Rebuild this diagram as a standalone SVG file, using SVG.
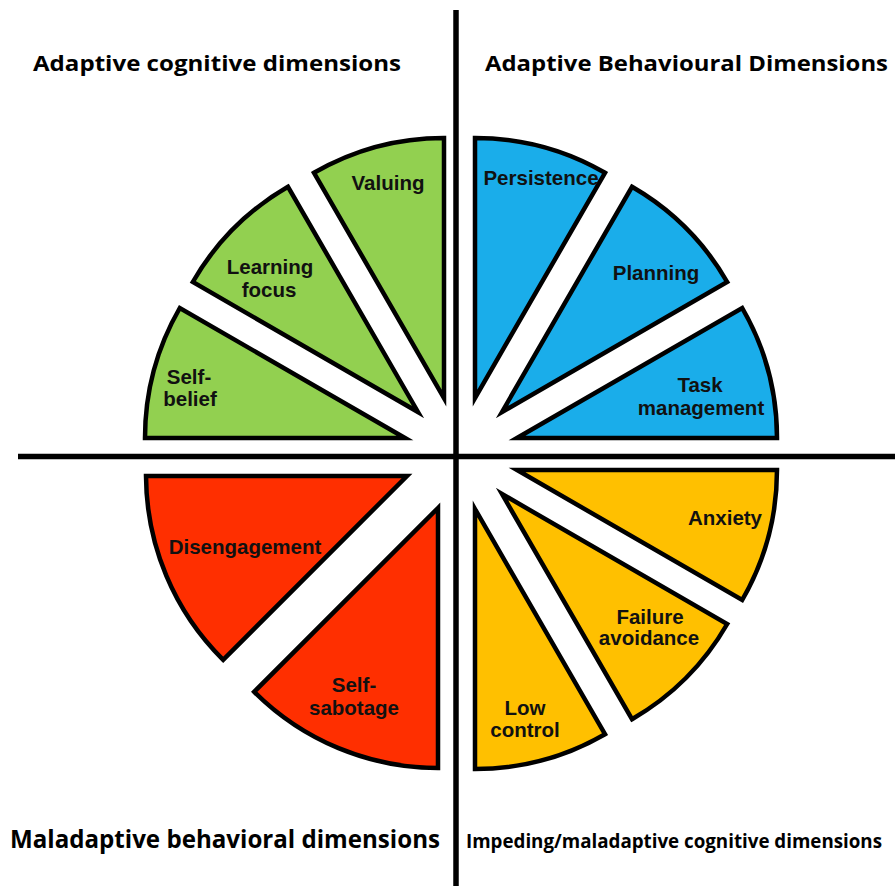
<svg xmlns="http://www.w3.org/2000/svg" width="895" height="886" viewBox="0 0 895 886">
<style>
.w{stroke:#000;stroke-width:4.5;stroke-linejoin:miter;stroke-miterlimit:20}
.g{fill:#92D050}.b{fill:#1AADEA}.r{fill:#FF2F00}.y{fill:#FFC000}
.l{font-family:"Liberation Sans",Arial,sans-serif;font-weight:bold;font-size:20.5px;fill:#111;text-anchor:middle}
.t{font-family:"Open Sans","Noto Sans",sans-serif;font-weight:bold;fill:#000}
.ax{stroke:#000;stroke-width:5.5}
</style>
<rect width="895" height="886" fill="#fff"/>
<g id="axes">
<line class="ax" x1="456" y1="10" x2="456" y2="886"/>
<line class="ax" x1="18" y1="456.5" x2="895" y2="456.5"/>
</g>
<g id="titles">
<text class="t" x="33" y="71" font-size="21" textLength="368" lengthAdjust="spacingAndGlyphs">Adaptive cognitive dimensions</text>
<text class="t" x="485" y="71" font-size="21" textLength="403" lengthAdjust="spacingAndGlyphs">Adaptive Behavioural Dimensions</text>
<text class="t" x="10" y="848" font-size="25" textLength="430" lengthAdjust="spacingAndGlyphs">Maladaptive behavioral dimensions</text>
<text class="t" x="466" y="848" font-size="20" textLength="416" lengthAdjust="spacingAndGlyphs">Impeding/maladaptive cognitive dimensions</text>
</g>
<g id="valuing"><path class="w g" d="M444,398 L444,138 A260,260 0 0,0 314,172.8 Z"/><text class="l" x="388" y="190">Valuing</text></g>
<g id="learning-focus"><path class="w g" d="M418,412 L288,186.8 A260,260 0 0,0 192.8,282 Z"/><text class="l" x="270" y="274">Learning</text><text class="l" x="269" y="297">focus</text></g>
<g id="self-belief"><path class="w g" d="M405,438 L179.8,308 A260,260 0 0,0 145,438 Z"/><text class="l" x="189" y="384">Self-</text><text class="l" x="190" y="406">belief</text></g>
<g id="persistence"><path class="w b" d="M475,398 L475,138 A260,260 0 0,1 605,172.8 Z"/><text class="l" x="541" y="185">Persistence</text></g>
<g id="planning"><path class="w b" d="M502,412 L632,186.8 A260,260 0 0,1 727.2,282 Z"/><text class="l" x="656" y="280">Planning</text></g>
<g id="task-management"><path class="w b" d="M517,438 L742.2,308 A260,260 0 0,1 777,438 Z"/><text class="l" x="700" y="392">Task</text><text class="l" x="701" y="415">management</text></g>
<g id="disengagement"><path class="w r" d="M407,476 L146,476 A260,260 0 0,0 223.2,659.8 Z"/><text class="l" x="245" y="554">Disengagement</text></g>
<g id="self-sabotage"><path class="w r" d="M438,508 L254.2,691.8 A260,260 0 0,0 438,768 Z"/><text class="l" x="354" y="692">Self-</text><text class="l" x="354" y="715">sabotage</text></g>
<g id="anxiety"><path class="w y" d="M517,470 L777,470 A260,260 0 0,1 742.2,600 Z"/><text class="l" x="725" y="525">Anxiety</text></g>
<g id="failure-avoidance"><path class="w y" d="M502,494 L727.2,624 A260,260 0 0,1 632,719.2 Z"/><text class="l" x="650" y="624">Failure</text><text class="l" x="649" y="645">avoidance</text></g>
<g id="low-control"><path class="w y" d="M475,509 L605,734.2 A260,260 0 0,1 475,769 Z"/><text class="l" x="525" y="715">Low</text><text class="l" x="525" y="737">control</text></g>
</svg>
